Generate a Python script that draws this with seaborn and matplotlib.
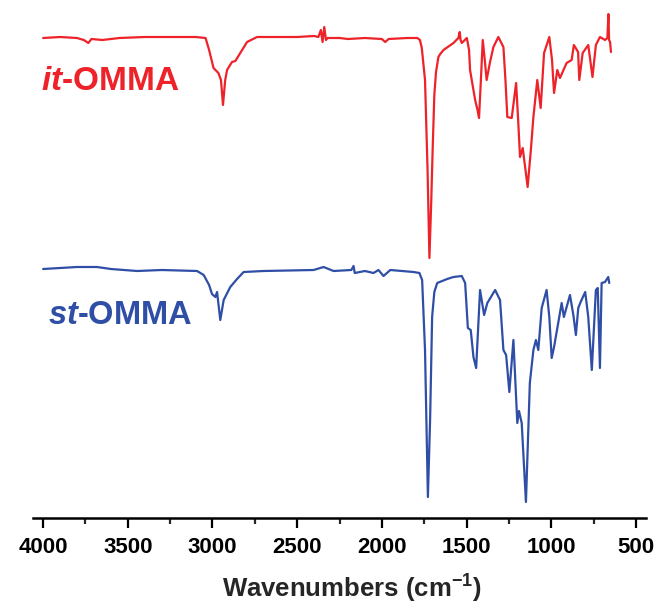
import matplotlib
matplotlib.use("Agg")
import matplotlib.pyplot as plt
import seaborn as sns
import pandas as pd

# ---- data: wavenumber (cm-1) and offset transmittance (a.u.) ----
it_wn = [4000, 3900, 3800, 3760, 3733, 3715, 3650, 3550, 3400, 3200, 3100, 3041,
         3020, 2994, 2965, 2950, 2938, 2925, 2914, 2885, 2865, 2836, 2796, 2737,
         2500, 2400, 2375, 2360, 2350, 2340, 2330, 2320, 2250, 2200, 2100, 2000,
         1980, 1960, 1850, 1790, 1775, 1764, 1745, 1730, 1719, 1708, 1700, 1690,
         1680, 1666, 1655, 1636, 1577, 1548, 1540, 1535, 1528, 1498, 1485, 1479,
         1449, 1435, 1426, 1415, 1404, 1395, 1381, 1361, 1341, 1312, 1282, 1270,
         1259, 1233, 1207, 1195, 1184, 1168, 1139, 1120, 1105, 1082, 1062, 1042,
         1011, 995, 983, 964, 948, 909, 879, 866, 841, 834, 814, 781, 756, 736,
         712, 682, 668, 662, 658, 652, 647]
it_tr = [480, 481, 480, 478, 475, 479, 478, 480, 481, 481, 481, 480,
         468, 450, 445, 438, 413, 438, 448, 456, 457, 465, 476, 481,
         481, 482, 481, 488, 476, 491, 478, 480, 480, 479, 480, 479,
         476, 479, 480, 480, 478, 470, 438, 348, 260, 318, 368, 423,
         446, 461, 464, 468, 475, 480, 486, 478, 475, 480, 468, 448,
         418, 408, 400, 438, 478, 463, 438, 456, 471, 481, 471, 438,
         401, 400, 435, 398, 361, 370, 331, 368, 401, 438, 410, 465,
         481, 458, 425, 448, 440, 455, 458, 473, 466, 438, 465, 473,
         441, 473, 481, 478, 480, 504, 478, 476, 466]

st_wn = [4000, 3900, 3800, 3682, 3600, 3445, 3300, 3091, 3052, 3020, 3003, 2983,
         2973, 2954, 2934, 2895, 2855, 2816, 2698, 2403, 2344, 2285, 2180, 2167,
         2160, 2100, 2049, 2020, 1990, 1950, 1813, 1778, 1762, 1745, 1728, 1715,
         1703, 1690, 1673, 1614, 1577, 1528, 1508, 1492, 1475, 1459, 1443, 1420,
         1396, 1377, 1331, 1302, 1282, 1266, 1247, 1223, 1200, 1190, 1174, 1149,
         1126, 1105, 1090, 1076, 1056, 1027, 1011, 997, 983, 938, 925, 889,
         869, 854, 840, 826, 799, 781, 760, 736, 725, 712, 702, 682, 663, 657]
st_tr = [249, 250, 251, 251, 249, 247, 248, 247, 243, 233, 224, 221,
         226, 198, 218, 231, 239, 246, 247, 248, 251, 247, 248, 252,
         245, 247, 245, 248, 242, 248, 246, 245, 238, 168, 21, 98,
         201, 226, 235, 239, 241, 242, 235, 190, 188, 161, 150, 228,
         203, 215, 228, 218, 168, 163, 126, 178, 95, 107, 95, 16,
         135, 168, 178, 168, 210, 228, 201, 160, 171, 215, 201, 223,
         203, 183, 210, 216, 226, 201, 148, 228, 230, 150, 235, 236, 241, 235]

labels = ["it-OMMA", "st-OMMA"]
colors = {"it-OMMA": "#EE2229", "st-OMMA": "#2F4EA5"}

df = pd.concat([
    pd.DataFrame({"wn": it_wn, "tr": it_tr, "sample": labels[0]}),
    pd.DataFrame({"wn": st_wn, "tr": st_tr, "sample": labels[1]}),
])

sns.set_theme(style="white")
plt.rcParams["font.family"] = ["Liberation Sans", "DejaVu Sans"]
plt.rcParams["mathtext.fontset"] = "custom"
plt.rcParams["mathtext.rm"] = "Liberation Sans"
plt.rcParams["mathtext.bf"] = "Liberation Sans:bold"
plt.rcParams["mathtext.bfit"] = "Liberation Sans:bold:italic"

fig = plt.figure(figsize=(6.59, 6.08), dpi=100)
ax = fig.add_axes([33 / 659, 90 / 608, 613 / 659, 518 / 608])

sns.lineplot(data=df, x="wn", y="tr", hue="sample", palette=colors,
             sort=False, estimator=None, linewidth=1.6, legend=False, ax=ax)

ax.set_xlim(4060, 440)
ax.set_ylim(0, 518)

for s in ["top", "right", "left"]:
    ax.spines[s].set_visible(False)
ax.spines["bottom"].set_linewidth(1.8)
ax.spines["bottom"].set_color("black")
ax.set_yticks([])
ax.set_ylabel("")

ax.set_xticks([4000, 3500, 3000, 2500, 2000, 1500, 1000, 500])
ax.set_xticks([3750, 3250, 2750, 2250, 1750, 1250, 750], minor=True)
ax.tick_params(axis="x", which="major", direction="out", length=7, width=1.6,
               labelsize=16, pad=7, colors="black", bottom=True)
ax.tick_params(axis="x", which="minor", direction="out", length=4, width=1.6,
               bottom=True)
for lab in ax.get_xticklabels():
    lab.set_fontweight("bold")
ax.set_xlabel(r"Wavenumbers (cm$^{\mathbf{-1}}$)", fontsize=18.5,
              fontweight="bold")
ax.xaxis.set_label_coords(0.52, -0.102)

ax.text(4010, 437, r"$\mathbfit{it}$-OMMA", color=colors["it-OMMA"],
        fontsize=24, fontweight="bold", ha="left", va="center")
ax.text(3969, 203, r"$\mathbfit{st}$-OMMA", color=colors["st-OMMA"],
        fontsize=23.5, fontweight="bold", ha="left", va="center")

fig.savefig("out.png", dpi=100)
